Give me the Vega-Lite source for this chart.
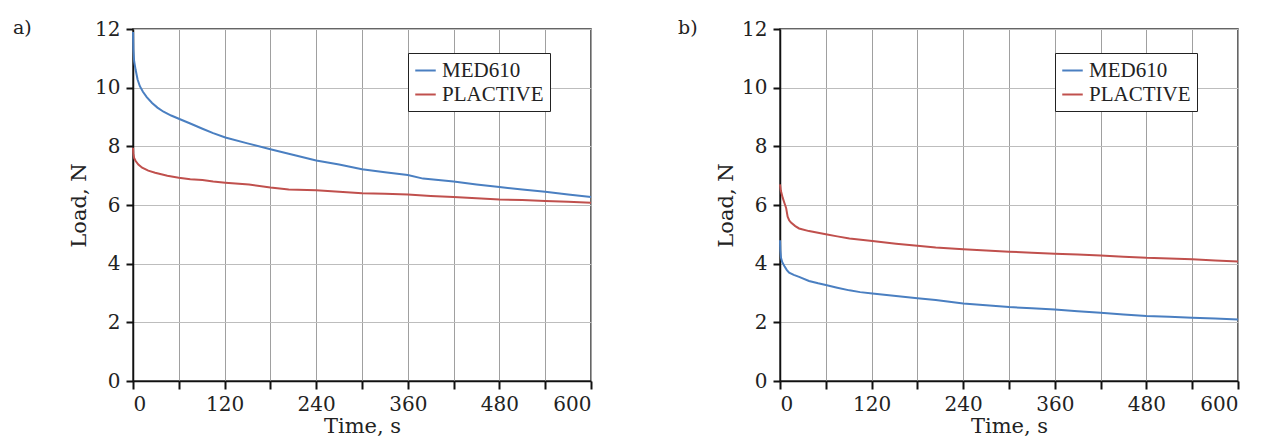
{
  "$schema": "https://vega.github.io/schema/vega-lite/v6.json",
  "padding": {"left": 12, "top": 18, "right": 5, "bottom": 2},
  "background": "white",
  "datasets": {
    "a": [
      {"s": "MED610", "t": 0, "v": 11.9}, {"s": "MED610", "t": 0.5, "v": 11.3}, {"s": "MED610", "t": 1.5, "v": 10.9}, {"s": "MED610", "t": 3.5, "v": 10.6}, {"s": "MED610", "t": 6, "v": 10.28}, {"s": "MED610", "t": 9, "v": 10.05}, {"s": "MED610", "t": 13, "v": 9.86}, {"s": "MED610", "t": 18, "v": 9.68}, {"s": "MED610", "t": 25, "v": 9.48}, {"s": "MED610", "t": 32, "v": 9.32}, {"s": "MED610", "t": 40, "v": 9.18}, {"s": "MED610", "t": 50, "v": 9.05}, {"s": "MED610", "t": 60, "v": 8.94}, {"s": "MED610", "t": 75, "v": 8.78}, {"s": "MED610", "t": 91, "v": 8.6}, {"s": "MED610", "t": 105, "v": 8.45}, {"s": "MED610", "t": 121, "v": 8.3}, {"s": "MED610", "t": 150, "v": 8.1}, {"s": "MED610", "t": 180, "v": 7.9}, {"s": "MED610", "t": 204, "v": 7.75}, {"s": "MED610", "t": 240, "v": 7.52}, {"s": "MED610", "t": 270, "v": 7.38}, {"s": "MED610", "t": 300, "v": 7.22}, {"s": "MED610", "t": 330, "v": 7.12}, {"s": "MED610", "t": 360, "v": 7.02}, {"s": "MED610", "t": 380, "v": 6.9}, {"s": "MED610", "t": 420, "v": 6.8}, {"s": "MED610", "t": 450, "v": 6.7}, {"s": "MED610", "t": 480, "v": 6.61}, {"s": "MED610", "t": 510, "v": 6.53}, {"s": "MED610", "t": 540, "v": 6.45}, {"s": "MED610", "t": 570, "v": 6.36}, {"s": "MED610", "t": 600, "v": 6.27},
      {"s": "PLACTIVE", "t": 0, "v": 7.95}, {"s": "PLACTIVE", "t": 0.5, "v": 7.75}, {"s": "PLACTIVE", "t": 1.5, "v": 7.6}, {"s": "PLACTIVE", "t": 3.5, "v": 7.5}, {"s": "PLACTIVE", "t": 7, "v": 7.38}, {"s": "PLACTIVE", "t": 12, "v": 7.27}, {"s": "PLACTIVE", "t": 20, "v": 7.17}, {"s": "PLACTIVE", "t": 29, "v": 7.1}, {"s": "PLACTIVE", "t": 45, "v": 7.0}, {"s": "PLACTIVE", "t": 60, "v": 6.93}, {"s": "PLACTIVE", "t": 75, "v": 6.88}, {"s": "PLACTIVE", "t": 91, "v": 6.85}, {"s": "PLACTIVE", "t": 105, "v": 6.8}, {"s": "PLACTIVE", "t": 121, "v": 6.76}, {"s": "PLACTIVE", "t": 152, "v": 6.7}, {"s": "PLACTIVE", "t": 180, "v": 6.6}, {"s": "PLACTIVE", "t": 204, "v": 6.53}, {"s": "PLACTIVE", "t": 240, "v": 6.5}, {"s": "PLACTIVE", "t": 270, "v": 6.45}, {"s": "PLACTIVE", "t": 300, "v": 6.4}, {"s": "PLACTIVE", "t": 330, "v": 6.38}, {"s": "PLACTIVE", "t": 360, "v": 6.36}, {"s": "PLACTIVE", "t": 390, "v": 6.31}, {"s": "PLACTIVE", "t": 420, "v": 6.27}, {"s": "PLACTIVE", "t": 450, "v": 6.23}, {"s": "PLACTIVE", "t": 480, "v": 6.19}, {"s": "PLACTIVE", "t": 510, "v": 6.17}, {"s": "PLACTIVE", "t": 540, "v": 6.14}, {"s": "PLACTIVE", "t": 570, "v": 6.11}, {"s": "PLACTIVE", "t": 600, "v": 6.08}
    ],
    "b": [
      {"s": "MED610", "t": 0, "v": 4.8}, {"s": "MED610", "t": 0.5, "v": 4.45}, {"s": "MED610", "t": 1.3, "v": 4.2}, {"s": "MED610", "t": 3, "v": 4.05}, {"s": "MED610", "t": 5.7, "v": 3.92}, {"s": "MED610", "t": 9, "v": 3.78}, {"s": "MED610", "t": 12, "v": 3.69}, {"s": "MED610", "t": 18, "v": 3.62}, {"s": "MED610", "t": 25, "v": 3.55}, {"s": "MED610", "t": 38, "v": 3.41}, {"s": "MED610", "t": 50, "v": 3.33}, {"s": "MED610", "t": 60, "v": 3.27}, {"s": "MED610", "t": 75, "v": 3.18}, {"s": "MED610", "t": 91, "v": 3.09}, {"s": "MED610", "t": 105, "v": 3.03}, {"s": "MED610", "t": 121, "v": 2.98}, {"s": "MED610", "t": 152, "v": 2.9}, {"s": "MED610", "t": 180, "v": 2.82}, {"s": "MED610", "t": 204, "v": 2.76}, {"s": "MED610", "t": 240, "v": 2.64}, {"s": "MED610", "t": 270, "v": 2.58}, {"s": "MED610", "t": 300, "v": 2.52}, {"s": "MED610", "t": 330, "v": 2.48}, {"s": "MED610", "t": 360, "v": 2.44}, {"s": "MED610", "t": 390, "v": 2.38}, {"s": "MED610", "t": 420, "v": 2.33}, {"s": "MED610", "t": 450, "v": 2.27}, {"s": "MED610", "t": 480, "v": 2.22}, {"s": "MED610", "t": 510, "v": 2.19}, {"s": "MED610", "t": 540, "v": 2.16}, {"s": "MED610", "t": 570, "v": 2.13}, {"s": "MED610", "t": 600, "v": 2.1},
      {"s": "PLACTIVE", "t": 0, "v": 6.7}, {"s": "PLACTIVE", "t": 1, "v": 6.5}, {"s": "PLACTIVE", "t": 3.5, "v": 6.25}, {"s": "PLACTIVE", "t": 6, "v": 6.05}, {"s": "PLACTIVE", "t": 8, "v": 5.9}, {"s": "PLACTIVE", "t": 10, "v": 5.6}, {"s": "PLACTIVE", "t": 12, "v": 5.48}, {"s": "PLACTIVE", "t": 14.4, "v": 5.4}, {"s": "PLACTIVE", "t": 20, "v": 5.28}, {"s": "PLACTIVE", "t": 25, "v": 5.2}, {"s": "PLACTIVE", "t": 38, "v": 5.11}, {"s": "PLACTIVE", "t": 60, "v": 5.0}, {"s": "PLACTIVE", "t": 75, "v": 4.93}, {"s": "PLACTIVE", "t": 91, "v": 4.86}, {"s": "PLACTIVE", "t": 121, "v": 4.77}, {"s": "PLACTIVE", "t": 152, "v": 4.68}, {"s": "PLACTIVE", "t": 180, "v": 4.61}, {"s": "PLACTIVE", "t": 204, "v": 4.55}, {"s": "PLACTIVE", "t": 240, "v": 4.49}, {"s": "PLACTIVE", "t": 270, "v": 4.45}, {"s": "PLACTIVE", "t": 300, "v": 4.41}, {"s": "PLACTIVE", "t": 330, "v": 4.37}, {"s": "PLACTIVE", "t": 360, "v": 4.34}, {"s": "PLACTIVE", "t": 390, "v": 4.31}, {"s": "PLACTIVE", "t": 420, "v": 4.28}, {"s": "PLACTIVE", "t": 450, "v": 4.24}, {"s": "PLACTIVE", "t": 480, "v": 4.2}, {"s": "PLACTIVE", "t": 510, "v": 4.18}, {"s": "PLACTIVE", "t": 540, "v": 4.15}, {"s": "PLACTIVE", "t": 570, "v": 4.11}, {"s": "PLACTIVE", "t": 600, "v": 4.07}
    ]
  },
  "spacing": 189,
  "bounds": "flush",
  "resolve": {"legend": {"color": "independent"}},
  "hconcat": [
    {
      "title": {"text": "a)", "anchor": "start", "frame": "group", "dx": -120, "dy": 34, "offset": 0, "baseline": "alphabetic", "fontSize": 19, "font": "DejaVu Serif", "fontWeight": "normal", "color": "#222"},
      "width": 458,
      "height": 352,
      "data": {"name": "a"},
      "mark": {"type": "line", "strokeWidth": 2},
      "encoding": {
        "x": {"field": "t", "type": "quantitative", "scale": {"domain": [0, 600], "nice": false}, "axis": {"values": [0, 60, 120, 180, 240, 300, 360, 420, 480, 540, 600], "labelExpr": "datum.value % 120 === 0 ? datum.label : ''", "title": "Time, s"}},
        "y": {"field": "v", "type": "quantitative", "scale": {"domain": [0, 12], "nice": false}, "axis": {"values": [0, 2, 4, 6, 8, 10, 12], "title": "Load, N"}},
        "color": {"field": "s", "type": "nominal", "scale": {"domain": ["MED610", "PLACTIVE"], "range": ["#4a7fc1", "#c0504d"]}, "legend": {"title": null, "orient": "none", "legendX": 275, "legendY": 24, "strokeColor": "#222", "fillColor": "white", "padding": 6, "symbolType": "stroke", "symbolStrokeWidth": 2, "symbolSize": 420, "labelFont": "Liberation Serif", "labelFontSize": 21, "labelColor": "#222", "labelOffset": 5, "rowPadding": 2}}
      }
    },
    {
      "title": {"text": "b)", "anchor": "start", "frame": "group", "dx": -102, "dy": 34, "offset": 0, "baseline": "alphabetic", "fontSize": 19, "font": "DejaVu Serif", "fontWeight": "normal", "color": "#222"},
      "width": 458,
      "height": 352,
      "data": {"name": "b"},
      "mark": {"type": "line", "strokeWidth": 2},
      "encoding": {
        "x": {"field": "t", "type": "quantitative", "scale": {"domain": [0, 600], "nice": false}, "axis": {"values": [0, 60, 120, 180, 240, 300, 360, 420, 480, 540, 600], "labelExpr": "datum.value % 120 === 0 ? datum.label : ''", "title": "Time, s"}},
        "y": {"field": "v", "type": "quantitative", "scale": {"domain": [0, 12], "nice": false}, "axis": {"values": [0, 2, 4, 6, 8, 10, 12], "title": "Load, N"}},
        "color": {"field": "s", "type": "nominal", "scale": {"domain": ["MED610", "PLACTIVE"], "range": ["#4a7fc1", "#c0504d"]}, "legend": {"title": null, "orient": "none", "legendX": 275, "legendY": 24, "strokeColor": "#222", "fillColor": "white", "padding": 6, "symbolType": "stroke", "symbolStrokeWidth": 2, "symbolSize": 420, "labelFont": "Liberation Serif", "labelFontSize": 21, "labelColor": "#222", "labelOffset": 5, "rowPadding": 2}}
      }
    }
  ],
  "config": {
    "view": {"stroke": "#333", "strokeWidth": 1.5},
    "axis": {
      "domainColor": "#111",
      "domainWidth": 1.5,
      "tickColor": "#111",
      "tickWidth": 2,
      "tickSize": 8,
      "gridColor": "#a0a0a0",
      "gridWidth": 1,
      "labelFont": "DejaVu Serif",
      "labelFontSize": 20,
      "labelColor": "#222",
      "labelPadding": 5,
      "titleFont": "DejaVu Serif",
      "titleFontSize": 21,
      "titleFontWeight": "normal",
      "titleColor": "#222",
      "titlePadding": 1
    },
    "axisY": {"tickSize": 7, "labelPadding": 6, "titlePadding": 5, "gridColor": "#bdbdbd"}
  }
}
